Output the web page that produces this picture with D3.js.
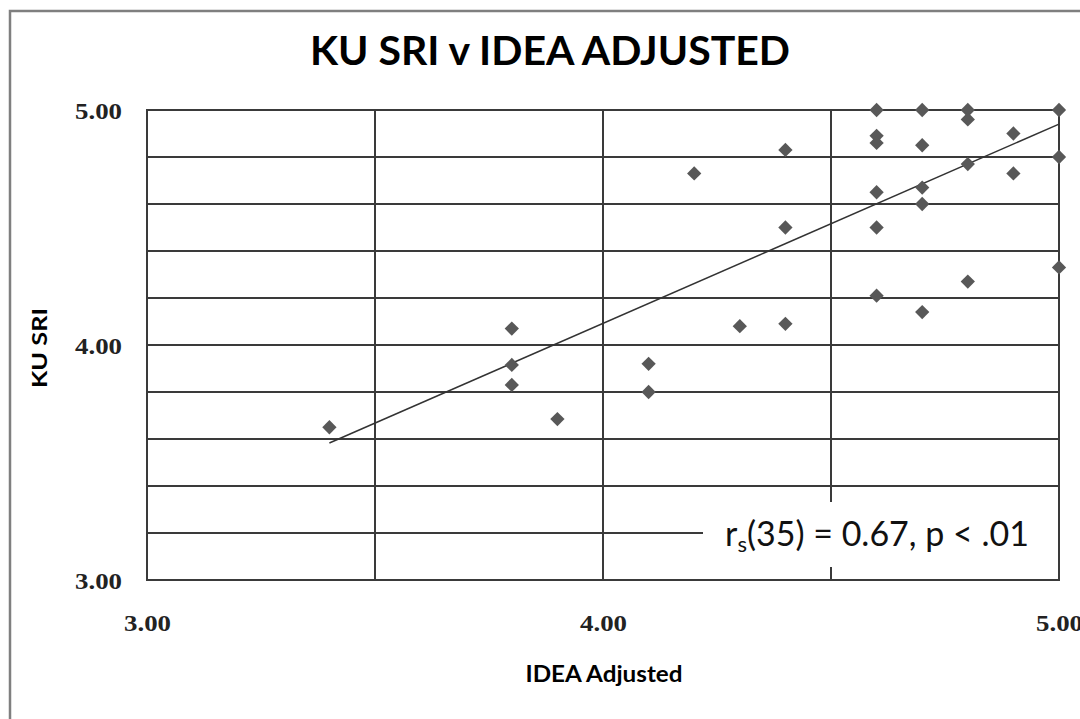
<!DOCTYPE html>
<html>
<head>
<meta charset="utf-8">
<script src="https://cdn.jsdelivr.net/npm/d3@7"></script>
<style>
  body { margin: 0; background: #fff; }
  svg { display: block; }
</style>
</head>
<body>
<svg id="chart" width="1080" height="719"></svg>
<script>
// values
const ideaAdjusted = [3.4, 3.8, 3.8, 3.8, 3.9, 4.1, 4.1, 4.2, 4.3, 4.4, 4.4, 4.4,
  4.6, 4.6, 4.6, 4.6, 4.6, 4.6, 4.7, 4.7, 4.7, 4.7, 4.7,
  4.8, 4.8, 4.8, 4.8, 4.9, 4.9, 5.0, 5.0, 5.0];
const kuSri = [3.65, 4.07, 3.915, 3.83, 3.685, 3.92, 3.80, 4.73, 4.08, 4.83, 4.50, 4.09,
  5.00, 4.89, 4.86, 4.65, 4.50, 4.21, 5.00, 4.85, 4.67, 4.60, 4.14,
  5.00, 4.96, 4.77, 4.27, 4.90, 4.73, 5.00, 4.80, 4.33];
const trendX = [3.4, 5.0];
const trendY = [3.583, 4.94];
const xTicks = [3, 4, 5];
const yTicks = [3, 4, 5];
const xGrid = [3.5, 4, 4.5];
const yGrid = [3.2, 3.4, 3.6, 3.8, 4.0, 4.2, 4.4, 4.6, 4.8];
const titleText = 'KU SRI v IDEA ADJUSTED';
const xTitle = 'IDEA Adjusted';
const yTitle = 'KU SRI';

const margin = { left: 147, right: 1059, top: 110, bottom: 580 };
const gridColor = '#3a3a3a';
const markerColor = '#585858';

const x = d3.scaleLinear().domain([3, 5]).range([margin.left, margin.right]);
const y = d3.scaleLinear().domain([3, 5]).range([margin.bottom, margin.top]);

const svg = d3.select('#chart');

// outer frame
svg.append('rect')
  .attr('x', 10).attr('y', 11)
  .attr('width', 1090).attr('height', 730)
  .attr('fill', 'none')
  .attr('stroke', '#7f7f7f')
  .attr('stroke-width', 2.5);

// title
svg.append('text')
  .attr('x', 550).attr('y', 65)
  .attr('text-anchor', 'middle')
  .attr('font-family', 'Lato, "Open Sans", sans-serif')
  .attr('font-weight', 'bold')
  .attr('font-size', 41)
  .attr('fill', '#000')
  .text(titleText);

const plot = svg.append('g');

// horizontal grid
plot.selectAll('.hgrid')
  .data(yGrid)
  .enter()
  .append('line')
  .attr('x1', margin.left).attr('x2', margin.right)
  .attr('y1', d => y(d)).attr('y2', d => y(d))
  .attr('stroke', gridColor)
  .attr('stroke-width', 2);

// vertical grid
plot.selectAll('.vgrid')
  .data(xGrid)
  .enter()
  .append('line')
  .attr('x1', d => x(d)).attr('x2', d => x(d))
  .attr('y1', margin.top).attr('y2', margin.bottom)
  .attr('stroke', gridColor)
  .attr('stroke-width', 2);

// plot border
plot.append('rect')
  .attr('x', margin.left).attr('y', margin.top)
  .attr('width', margin.right - margin.left)
  .attr('height', margin.bottom - margin.top)
  .attr('fill', 'none')
  .attr('stroke', gridColor)
  .attr('stroke-width', 2);

// axes (labels only)
const xAxis = d3.axisBottom(x).tickValues(xTicks).tickSize(0).tickPadding(35)
  .tickFormat(d3.format('.2f'));
const yAxis = d3.axisLeft(y).tickValues(yTicks).tickSize(0).tickPadding(25)
  .tickFormat(d3.format('.2f'));

const gx = svg.append('g')
  .attr('transform', `translate(0,${margin.bottom})`)
  .call(xAxis);
const gy = svg.append('g')
  .attr('transform', `translate(${margin.left},0)`)
  .call(yAxis);
[gx, gy].forEach(g => {
  g.select('.domain').remove();
  g.selectAll('text')
    .attr('font-family', '"Liberation Serif", serif')
    .attr('font-weight', 'bold')
    .attr('font-size', 23)
    .attr('textLength', 47)
    .attr('lengthAdjust', 'spacingAndGlyphs')
    .attr('fill', '#222');
});
gy.selectAll('text').attr('dy', '0.36em');

// axis titles
svg.append('text')
  .attr('x', 604).attr('y', 682)
  .attr('text-anchor', 'middle')
  .attr('font-family', 'Lato, "Open Sans", sans-serif')
  .attr('font-weight', 'bold')
  .attr('font-size', 22)
  .attr('textLength', 157)
  .attr('lengthAdjust', 'spacingAndGlyphs')
  .attr('fill', '#000')
  .text(xTitle);

svg.append('text')
  .attr('transform', 'translate(47,348) rotate(-90)')
  .attr('text-anchor', 'middle')
  .attr('font-family', 'Lato, "Open Sans", sans-serif')
  .attr('font-weight', 'bold')
  .attr('font-size', 21)
  .attr('textLength', 80)
  .attr('lengthAdjust', 'spacingAndGlyphs')
  .attr('fill', '#000')
  .text(yTitle);

// trend line
const trend = trendX.map((d, i) => [d, trendY[i]]);
svg.append('path')
  .datum(trend)
  .attr('d', d3.line().x(d => x(d[0])).y(d => y(d[1])))
  .attr('fill', 'none')
  .attr('stroke', '#333')
  .attr('stroke-width', 1.5);

// points
svg.selectAll('.pt')
  .data(ideaAdjusted)
  .enter()
  .append('path')
  .attr('d', d3.symbol().type(d3.symbolDiamond2).size(130))
  .attr('transform', (d, i) => `translate(${x(d)},${y(kuSri[i])})`)
  .attr('fill', markerColor);

// stats box
svg.append('rect')
  .attr('x', 703).attr('y', 502)
  .attr('width', margin.right - 1 - 703).attr('height', 65)
  .attr('fill', '#fff');

const stat = svg.append('text')
  .attr('x', 725).attr('y', 546)
  .attr('font-family', 'Lato, "Open Sans", sans-serif')
  .attr('font-size', 34)
  .attr('fill', '#111');
stat.append('tspan').text('r');
stat.append('tspan').attr('font-size', 22).attr('dy', 6).text('s');
stat.append('tspan').attr('dy', -6).text('(35) = 0.67, p < .01');
</script>
</body>
</html>
